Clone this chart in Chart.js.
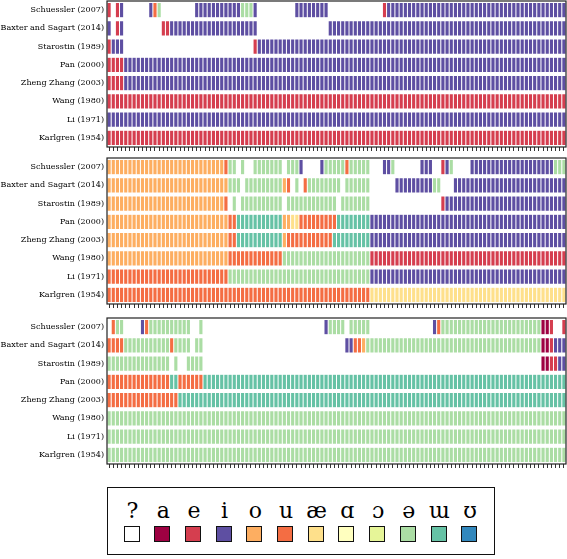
<!DOCTYPE html>
<html>
<head>
<meta charset="utf-8">
<script src="https://cdn.jsdelivr.net/npm/chart.js@4.4.0/dist/chart.umd.min.js"></script>
<style>
  body { margin: 0; background: #fff; }
  #page { position: relative; width: 567px; height: 559px; overflow: hidden; }
  .panel { position: absolute; left: 0; width: 567px; height: 156px; }
  #legend { position: absolute; left: 107px; top: 487px; width: 386px; height: 66px;
            border: 1.6px solid #111; box-sizing: content-box; }
  .key { position: absolute; top: 0; width: 30px; height: 66px; }
  .key span { position: absolute; left: 0; width: 30px; top: 10px; text-align: center;
              font-family: "DejaVu Serif"; font-size: 22px; line-height: 26px; color: #000; }
  .key i { position: absolute; left: 6px; top: 38px; width: 14px; height: 14px;
           border: 1.5px solid #111; }
</style>
</head>
<body>
<div id="page">
  <div class="panel" style="top:-1px"><canvas id="panel1" width="567" height="156"></canvas></div>
  <div class="panel" style="top:156px"><canvas id="panel2" width="567" height="156"></canvas></div>
  <div class="panel" style="top:316px"><canvas id="panel3" width="567" height="156"></canvas></div>
  <div id="legend"></div>
</div>
<script>
// row labels, top to bottom
var authors = ["Schuessler (2007)", "Baxter and Sagart (2014)", "Starostin (1989)", "Pan (2000)",
               "Zheng Zhang (2003)", "Wang (1980)", "Li (1971)", "Karlgren (1954)"];

// vowel categories and their colours ("?" = unknown)
var vowels = ["?", "a", "e", "i", "o", "u", "æ", "ɑ", "ɔ", "ə", "ɯ", "ʊ"];
var vowelColors = ["#ffffff", "#9e0142", "#d53e4f", "#5e4fa2", "#fdae61", "#f46d43",
                   "#fee08b", "#ffffbf", "#e6f598", "#abdda4", "#66c2a5", "#3288bd"];

var nCols = 110;

// each row: runs of [vowel, number of cells], left to right
var panel1 = [
  [["e",1],["?",1],["e",1],["i",1],["?",6],["i",1],["u",1],["ə",1],["?",8],["i",11],["ə",3],["i",1],["?",9],["i",8],["?",13],["e",1],["i",43]],
  [["i",1],["?",1],["e",1],["i",1],["?",9],["e",2],["i",21],["?",17],["i",57]],
  [["e",1],["i",3],["?",31],["e",1],["i",74]],
  [["e",4],["i",106]],
  [["e",4],["i",106]],
  [["e",110]],
  [["i",110]],
  [["e",110]]
];

var panel2 = [
  [["o",28],["u",1],["ə",2],["?",1],["ə",1],["?",2],["ə",7],["?",1],["ə",3],["i",1],["?",4],["i",1],["ə",5],["u",1],["ə",5],["?",3],["i",2],["ə",1],["?",6],["i",3],["?",2],["e",1],["i",1],["ə",1],["?",4],["i",20],["ə",3]],
  [["o",29],["ə",3],["?",1],["ə",9],["o",1],["u",1],["?",1],["ə",1],["?",1],["u",1],["ə",8],["?",1],["ə",6],["?",6],["i",9],["ə",2],["?",3],["i",27]],
  [["o",28],["u",1],["?",1],["ə",1],["?",1],["ə",10],["?",1],["ə",12],["?",1],["ə",7],["?",17],["e",1],["i",29]],
  [["o",29],["u",2],["ɯ",11],["o",2],["æ",2],["u",9],["ɯ",8],["i",47]],
  [["o",29],["u",2],["ɯ",11],["o",1],["u",11],["ɯ",9],["i",47]],
  [["o",29],["u",13],["ə",21],["e",47]],
  [["u",29],["ə",34],["i",47]],
  [["u",63],["æ",47]]
];

var panel3 = [
  [["?",1],["u",1],["ə",2],["?",4],["i",1],["u",1],["ə",10],["?",2],["ə",1],["?",29],["i",1],["ə",4],["?",1],["ə",5],["?",15],["i",1],["u",1],["ə",24],["a",2],["e",1],["?",2],["e",1]],
  [["u",4],["ə",11],["u",1],["ə",4],["?",1],["ə",2],["?",34],["i",2],["u",2],["o",1],["ə",42],["a",2],["e",1],["i",3]],
  [["ə",15],["?",1],["ə",1],["?",2],["ə",4],["?",81],["a",2],["e",2],["i",2]],
  [["u",15],["ɯ",2],["u",6],["ɯ",87]],
  [["u",17],["ɯ",93]],
  [["ə",110]],
  [["ə",110]],
  [["ə",110]]
];

// one floating-bar dataset per vowel, each cell spans [col, col + 1]
function buildDatasets(rows) {
  return vowels.slice(1).map(function (v) {
    var cells = [];
    rows.forEach(function (runs, r) {
      var col = 0;
      runs.forEach(function (run) {
        for (var k = 0; k < run[1]; k++) {
          if (run[0] === v) cells.push({ x: [col, col + 1], y: authors[r] });
          col++;
        }
      });
    });
    return {
      label: v,
      data: cells,
      backgroundColor: vowelColors[vowels.indexOf(v)],
      borderColor: "#ffffff",
      borderWidth: 0.5,
      borderSkipped: false,
      grouped: false,
      categoryPercentage: 1,
      barPercentage: 0.84
    };
  });
}

// frame around the plot area
var framePlugin = {
  id: "frame",
  afterDraw: function (chart) {
    var a = chart.chartArea, ctx = chart.ctx;
    ctx.save();
    ctx.strokeStyle = "#222";
    ctx.lineWidth = 1.2;
    ctx.strokeRect(a.left, a.top, a.right - a.left, a.bottom - a.top);
    ctx.restore();
  }
};

function makePanel(id, rows) {
  new Chart(document.getElementById(id), {
    type: "bar",
    data: { labels: authors, datasets: buildDatasets(rows) },
    options: {
      indexAxis: "y",
      responsive: false,
      animation: false,
      devicePixelRatio: 1,
      layout: { padding: { top: 2, right: 1, left: 0, bottom: 0 } },
      plugins: { legend: { display: false }, tooltip: { enabled: false } },
      scales: {
        x: {
          type: "linear",
          min: 0,
          max: nCols,
          border: { display: false },
          grid: { drawOnChartArea: false, drawTicks: true, tickLength: 4, color: "#333", lineWidth: 1 },
          ticks: { display: false },
          afterBuildTicks: function (s) {
            var t = [];
            for (var c = 0; c < nCols; c++) t.push({ value: c + 0.5 });
            s.ticks = t;
          },
          afterFit: function (s) {
            s.height = 8;
            s.paddingLeft = 0; s.paddingRight = 0;
          }
        },
        y: {
          type: "category",
          offset: true,
          border: { display: false },
          grid: { display: false, drawTicks: false },
          ticks: { autoSkip: false, padding: 3, color: "#000",
                   font: { family: "DejaVu Serif", size: 8 } },
          afterFit: function (s) {
            s.width = 107;
            s.paddingTop = 0; s.paddingBottom = 0;
          }
        }
      }
    },
    plugins: [framePlugin]
  });
}

makePanel("panel1", panel1);
makePanel("panel2", panel2);
makePanel("panel3", panel3);

// legend: symbol above a coloured square
var legend = document.getElementById("legend");
vowels.forEach(function (v, k) {
  var key = document.createElement("div");
  key.className = "key";
  key.style.left = (9.5 + k * 30.7) + "px";
  var s = document.createElement("span");
  s.textContent = v;
  var sq = document.createElement("i");
  sq.style.background = vowelColors[k];
  key.appendChild(s);
  key.appendChild(sq);
  legend.appendChild(key);
});
</script>
</body>
</html>
